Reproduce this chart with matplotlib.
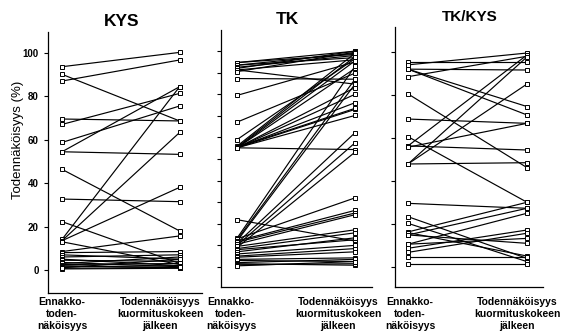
import matplotlib
matplotlib.use("Agg")
import matplotlib.pyplot as plt
import numpy as np

plt.rcParams['font.family'] = ['Liberation Sans', 'DejaVu Sans']

W, H = 566, 334

titles = ['KYS', 'TK', 'TK/KYS']
pre_label = 'Ennakko-\ntoden-\nnäköisyys'
post_label = 'Todennäköisyys\nkuormituskokeen\njälkeen'
y_label = 'Todennäköisyys (%)'

kys_pre = [93.7, 90.2, 87.1, 69.6, 67.1, 58.8, 54.5, 54.5, 46.4, 32.7, 22.3,
           14.1, 13.5, 13.5, 13.0, 8.5, 8.0, 7.0, 6.0, 5.0, 4.5, 3.5, 3.0,
           2.5, 2.0, 1.5, 1.0, 0.5, 0.8]
kys_post = [100.3, 68.7, 96.8, 68.7, 81.4, 75.6, 84.5, 53.3, 18.0, 31.5, 3.0,
            84.5, 63.4, 38.1, 2.5, 15.7, 8.5, 5.0, 7.0, 2.0, 4.0, 1.5, 6.0,
            3.0, 1.0, 2.0, 5.0, 0.8, 1.2]

tk_pre = [94.7, 94.7, 93.5, 93.5, 92.5, 92.0, 91.3, 91.3, 90.5, 87.3, 79.5,
          67.1, 59.0, 56.0, 55.5, 55.2, 55.2, 55.2, 55.2, 55.2, 55.2, 55.5,
          55.2, 55.2,
          21.9, 13.3, 12.6, 12.0, 11.0, 10.0, 9.0, 13.0, 12.0, 11.5, 10.5,
          9.5, 8.5, 8.0, 7.0, 6.0, 5.0, 4.5, 3.5, 3.0, 2.0, 1.5, 1.0, 0.5]
tk_post = [100.0, 98.5, 99.0, 97.0, 98.0, 100.0, 84.7, 96.0, 99.5, 87.0, 95.0,
           89.8, 96.5, 99.0, 97.5, 95.5, 92.0, 83.1, 80.0, 76.1, 73.0, 73.5,
           70.2, 54.4,
           12.0, 93.0, 87.0, 84.7, 62.2, 57.5, 53.2, 32.0, 26.2, 25.0, 24.2,
           17.2, 15.8, 12.6, 13.5, 10.0, 8.5, 7.0, 4.2, 2.5, 3.5, 0.8, 1.5, 2.5]

tkkys_pre = [95.5, 94.0, 92.0, 92.0, 92.0, 88.5, 80.5, 68.8, 60.6, 56.3, 56.3,
             47.9, 47.9, 47.9, 55.7,
             29.6, 23.4, 20.3, 16.3, 14.9, 16.0, 14.9, 10.6, 8.7, 6.8, 4.8,
             1.3, 10.6]
tkkys_post = [95.5, 99.5, 74.6, 70.7, 91.6, 98.0, 46.2, 66.8, 30.1, 98.6, 54.4,
              97.7, 85.1, 48.5, 66.8,
              27.3, 4.0, 2.5, 30.1, 27.3, 5.1, 11.0, 25.0, 17.2, 15.7, 4.8,
              1.3, 13.3]


def px_axes(fig, left, right, top, bottom):
    return fig.add_axes([left / W, 1 - bottom / H, (right - left) / W, (bottom - top) / H])


def draw_panel(ax, pre, post, xlim, ylim, step):
    for a, b in zip(pre, post):
        ax.plot([0, 1], [a, b], color='black', lw=0.85, marker='s', ms=3.0,
                mfc='white', mec='black', mew=0.7, clip_on=False)
    ax.set_xlim(*xlim)
    ax.set_ylim(*ylim)
    ax.set_xticks([])
    ax.set_yticks(np.arange(0, 101, step))
    ax.spines['top'].set_visible(False)
    ax.spines['right'].set_visible(False)
    ax.spines['left'].set_linewidth(0.9)
    ax.spines['bottom'].set_linewidth(0.9)
    ax.tick_params(axis='y', direction='out', length=3, width=0.8)


fig = plt.figure(figsize=(W / 100, H / 100), dpi=100)

ax1 = px_axes(fig, 48, 202, 32, 293)
draw_panel(ax1, kys_pre, kys_post, (-0.119, 1.19), (-10.6, 109.7), 20)
ax1.set_yticklabels([str(v) for v in range(0, 101, 20)], fontsize=7, fontweight='bold')
fig.text(18 / W, 1 - 140 / H, y_label, rotation=90, ha='center', va='center', fontsize=9.5)

ax2 = px_axes(fig, 221, 372, 30, 287)
draw_panel(ax2, tk_pre, tk_post, (-0.136, 1.144), (-9.3, 109.8), 10)
ax2.set_yticklabels([])

ax3 = px_axes(fig, 395, 543, 27, 287)
draw_panel(ax3, tkkys_pre, tkkys_post, (-0.109, 1.134), (-9.3, 111.6), 20)
ax3.set_yticklabels([])

# titles and category labels
for t, x, y, fs in zip(titles, [122, 287, 470], [22, 20, 17], [12.5, 12.5, 11]):
    fig.text(x / W, 1 - y / H, t, ha='center', va='center', fontsize=fs, fontweight='bold')

for xl, xr in [(62, 160), (231, 338), (410, 517)]:
    fig.text(xl / W, 1 - 297 / H, pre_label, ha='center', va='top', fontsize=7.5,
             fontweight='bold', linespacing=1.25)
    fig.text(xr / W, 1 - 297 / H, post_label, ha='center', va='top', fontsize=7.5,
             fontweight='bold', linespacing=1.25)

fig.savefig('out.png', dpi=100, facecolor='white')
